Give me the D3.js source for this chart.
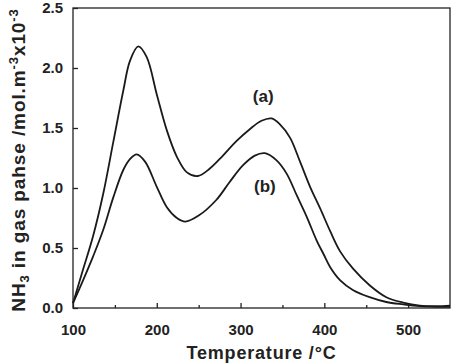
<!DOCTYPE html>
<html>
<head>
<meta charset="utf-8">
<script src="https://cdn.jsdelivr.net/npm/d3@7"></script>
<style>
  body { margin: 0; background: #fff; }
  svg { display: block; font-family: "Liberation Sans", Arial, sans-serif; font-weight: bold; }
</style>
</head>
<body>
<div id="chart"></div>
<script>
// curve (a)
const tempA = [100, 112, 124, 136, 148, 160, 168, 178, 188, 200, 212, 224, 236, 249, 263, 279, 295, 311, 325, 337, 347, 359, 371, 383, 395, 407, 419, 434, 454, 474, 494, 514, 534, 550];
const valA  = [0.04, 0.32, 0.60, 0.95, 1.38, 1.81, 2.06, 2.18, 2.09, 1.78, 1.48, 1.26, 1.13, 1.10, 1.16, 1.27, 1.39, 1.49, 1.56, 1.58, 1.53, 1.42, 1.22, 1.01, 0.83, 0.64, 0.47, 0.33, 0.19, 0.09, 0.045, 0.02, 0.015, 0.02];
// curve (b)
const tempB = [100, 112, 124, 136, 148, 160, 168, 176, 186, 200, 212, 224, 234, 250, 271, 287, 303, 317, 329, 343, 355, 367, 379, 391, 399, 407, 419, 434, 454, 474, 494, 514, 534, 550];
const valB  = [0.04, 0.23, 0.43, 0.65, 0.92, 1.15, 1.24, 1.28, 1.22, 1.01, 0.84, 0.75, 0.72, 0.77, 0.90, 1.05, 1.19, 1.27, 1.29, 1.23, 1.12, 0.94, 0.76, 0.56, 0.45, 0.34, 0.23, 0.15, 0.09, 0.05, 0.03, 0.015, 0.01, 0.01];

const xTicks = [100, 200, 300, 400, 500];
const xMinor = [150, 250, 350, 450];
const yTicks = [0, 0.5, 1.0, 1.5, 2.0, 2.5];

const margin = {top: 8, right: 4, bottom: 56, left: 73},
    width = 454 - margin.left - margin.right,
    height = 364 - margin.top - margin.bottom;

const svg = d3.select("#chart")
  .append("svg")
    .attr("width", 454)
    .attr("height", 364)
  .append("g")
    .attr("transform", `translate(${margin.left},${margin.top})`);

const x = d3.scaleLinear().domain([100, 550]).range([0, width]);
const y = d3.scaleLinear().domain([0, 2.5]).range([height, 0]);

const ink = "#222";

// frame
svg.append("rect")
  .attr("width", width)
  .attr("height", height)
  .attr("fill", "none")
  .attr("stroke", ink)
  .attr("stroke-width", 1.3);

// X axis, ticks pointing inward
svg.append("g")
  .attr("transform", `translate(0,${height})`)
  .call(d3.axisBottom(x).tickValues(xTicks).tickSize(-5).tickPadding(16).tickFormat(d3.format("d")));
svg.append("g")
  .attr("transform", `translate(0,${height})`)
  .call(d3.axisBottom(x).tickValues(xMinor).tickSize(-3).tickFormat(""));

// Y axis
svg.append("g")
  .call(d3.axisLeft(y).tickValues(yTicks).tickSize(-5).tickPadding(10).tickFormat(d3.format(".1f")));

svg.selectAll(".domain").remove();
svg.selectAll(".tick line").attr("stroke", ink).attr("stroke-width", 1.3);
svg.selectAll(".tick text")
  .attr("fill", ink)
  .style("font-size", "15px")
  .style("font-family", "'Liberation Sans', Arial, sans-serif")
  .style("font-weight", "bold");

// curves
const line = d3.line()
  .x(d => x(d[0]))
  .y(d => y(d[1]))
  .curve(d3.curveCatmullRom.alpha(0.5));

[[tempA, valA], [tempB, valB]].forEach(([t, v]) => {
  svg.append("path")
    .datum(t.map((d, i) => [d, v[i]]))
    .attr("fill", "none")
    .attr("stroke", "#1a1a1a")
    .attr("stroke-width", 1.8)
    .attr("d", line);
});

// curve labels
svg.append("text")
  .attr("x", x(327)).attr("y", y(1.72))
  .attr("text-anchor", "middle")
  .attr("fill", ink)
  .style("font-size", "17px")
  .text("(a)");
svg.append("text")
  .attr("x", x(329)).attr("y", y(0.97))
  .attr("text-anchor", "middle")
  .attr("fill", ink)
  .style("font-size", "17px")
  .text("(b)");

// axis titles
svg.append("text")
  .attr("x", x(325))
  .attr("y", height + 51)
  .attr("text-anchor", "middle")
  .attr("fill", ink)
  .style("font-size", "18px")
  .style("letter-spacing", "0.8px")
  .text("Temperature /°C");

const yl = svg.append("text")
  .attr("transform", `translate(${-48},${height / 2 + 2}) rotate(-90)`)
  .attr("text-anchor", "middle")
  .attr("fill", ink)
  .style("font-size", "19px")
  .style("letter-spacing", "0.9px");
yl.append("tspan").text("NH");
yl.append("tspan").attr("dy", 4).style("font-size", "13px").text("3");
yl.append("tspan").attr("dy", -4).text(" in gas pahse /mol.m");
yl.append("tspan").attr("dy", -7).style("font-size", "13px").text("-3");
yl.append("tspan").attr("dy", 7).text("x10");
yl.append("tspan").attr("dy", -7).style("font-size", "13px").text("-3");
</script>
</body>
</html>
